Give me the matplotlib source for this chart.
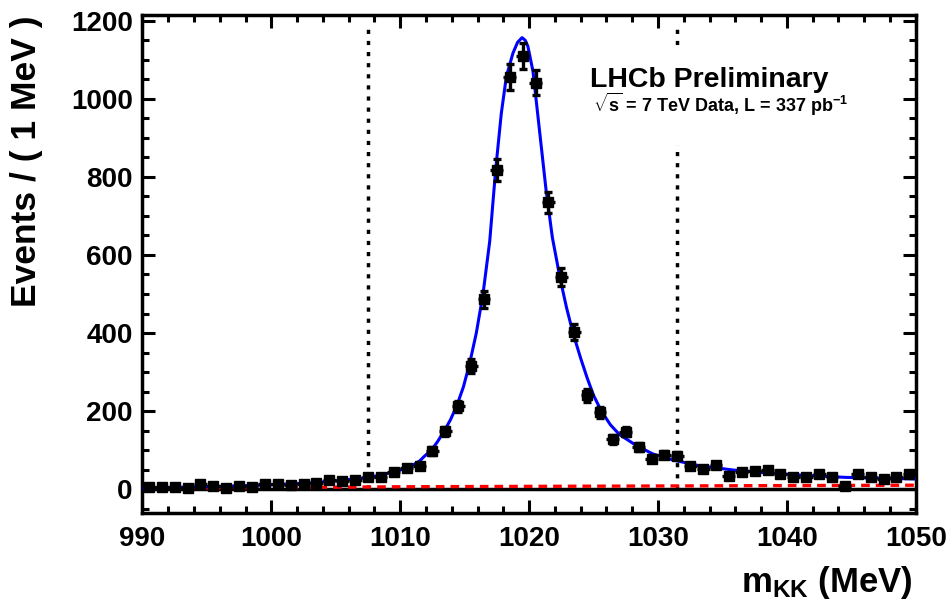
import numpy as np
import matplotlib
matplotlib.use('Agg')
import matplotlib.pyplot as plt
from matplotlib.patches import Rectangle
from matplotlib.ticker import MultipleLocator

plt.rcParams['font.family'] = ['Liberation Sans', 'DejaVu Sans']
plt.rcParams['font.weight'] = 'bold'
plt.rcParams['mathtext.fontset'] = 'custom'
plt.rcParams['mathtext.rm'] = 'Liberation Sans:bold'
plt.rcParams['mathtext.it'] = 'Liberation Sans:bold'
plt.rcParams['mathtext.bf'] = 'Liberation Sans:bold'

# data: events per 1 MeV bin, bins 990-1050
bin_lo = 990
counts = [6, 6, 5, 4, 14, 8, 4, 7, 6, 14,
          12, 10, 13, 15, 23, 20, 23, 30, 32, 43,
          53, 60, 98, 148, 212, 316, 486, 817, 1056, 1110,
          1042, 735, 543, 402, 240, 197, 128, 147, 108, 78,
          88, 86, 60, 51, 62, 34, 43, 46, 49, 38,
          32, 31, 38, 32, 8, 38, 31, 26, 31, 39]

# fit curve
fit_x = [990, 995, 1000, 1003, 1005, 1007, 1008, 1009, 1010, 1011,
         1011.5, 1011.9, 1012.42, 1012.9, 1013.43, 1013.9, 1014.4, 1014.9, 1015.39, 1015.9,
         1016.42, 1016.94, 1017.4, 1017.84, 1018.23, 1018.74, 1019.1, 1019.45, 1019.7, 1019.9,
         1020.3, 1020.8, 1021.3, 1021.8, 1022.4, 1022.9, 1023.4, 1024.0, 1024.5, 1025.0,
         1025.6, 1026.3, 1027.0, 1028.3, 1029.6, 1031.1, 1033.2, 1035.8, 1038.3, 1041.0,
         1044.6, 1050]
fit_y = [3, 6, 11, 16, 21, 28, 33, 40, 49, 62,
         72, 85, 100, 122, 150, 178, 215, 262, 323, 400,
         500, 635, 818, 963, 1057, 1117, 1145, 1157, 1150, 1135,
         1070, 920, 770, 645, 540, 465, 400, 335, 285, 240,
         200, 165, 140, 112, 90, 75, 60, 49, 42, 36,
         30, 26]

# background component
bkg_x = [990, 1000, 1010, 1020, 1030, 1040, 1050]
bkg_y = [2, 4, 6, 7, 8, 9, 10]

# signal window
window_edges = [1007.5, 1031.5]

counts = np.array(counts, dtype=float)
centers = bin_lo + 0.5 + np.arange(len(counts))
errs = np.sqrt(counts)

fig = plt.figure(figsize=(9.53, 6.10), dpi=100)
ax = fig.add_axes([0.1495, 0.1598, 0.961 - 0.1495, 0.9754 - 0.1598])

ax.plot(bkg_x, bkg_y, color='#ff0000', lw=2.4, ls=(0, (2.6, 1.8)), zorder=2)
ax.vlines(window_edges, 0, 1195, colors='k', linestyles=(0, (1.2, 2.0)), lw=2.5, zorder=1)
ax.axhline(0, color='k', lw=2.5, zorder=1.5)
ax.plot(fit_x, fit_y, color='#0000ff', lw=2.2, zorder=3)

ax.errorbar(centers, counts, xerr=0.5, fmt='none', ecolor='k', elinewidth=2.4, capsize=0, zorder=4)
ax.errorbar(centers, counts, yerr=errs, fmt='s', color='k', ms=7.5, elinewidth=2.4,
            capsize=3, capthick=2.4, zorder=4)

# white label box covering the dotted line
ax.add_patch(Rectangle((0.572, 0.739), 0.362, 0.191, transform=ax.transAxes,
                       facecolor='white', edgecolor='none', zorder=5))
ax.text(0.5786, 0.856, 'LHCb Preliminary', transform=ax.transAxes, fontsize=20.5,
        fontweight='bold', ha='left', va='baseline', zorder=6)
ax.text(0.5824, 0.805, r'$\sqrt{s}$ = 7 TeV Data, L = 337 pb$^{-1}$', transform=ax.transAxes,
        fontsize=13, fontweight='bold', ha='left', va='baseline', zorder=6)

ax.set_xlim(990, 1050)
ax.set_ylim(-60, 1215)
ax.xaxis.set_major_locator(MultipleLocator(10))
ax.xaxis.set_minor_locator(MultipleLocator(2))
ax.yaxis.set_major_locator(MultipleLocator(200))
ax.yaxis.set_minor_locator(MultipleLocator(50))
ax.tick_params(which='both', direction='in', top=True, right=True, width=2.2)
ax.tick_params(which='major', length=9.4, labelsize=20)
ax.tick_params(which='minor', length=5)
ax.tick_params(axis='x', which='major', pad=10)
ax.tick_params(axis='y', which='major', pad=7)
for lab in ax.get_xticklabels() + ax.get_yticklabels():
    lab.set_fontweight('bold')
for sp in ax.spines.values():
    sp.set_linewidth(2.5)

fig.text(0.0283, 0.975, 'Events / ( 1 MeV )', rotation=90, ha='center', va='top',
         fontsize=25.5, fontweight='bold')
fig.text(0.958, 0.0295, r'm$_{\mathrm{KK}}$ (MeV)', ha='right', va='baseline',
         fontsize=25, fontweight='bold')

fig.savefig('out.png', dpi=100)
